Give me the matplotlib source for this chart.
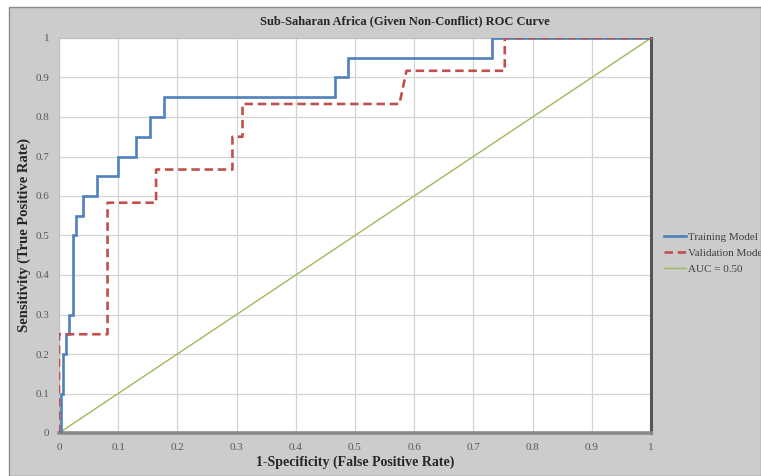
"""ROC curve: Sub-Saharan Africa (given non-conflict), training vs validation."""
import matplotlib
matplotlib.use("Agg")
import matplotlib.pyplot as plt
from matplotlib.patches import Rectangle

OUTPUT_PATH = "out.png"

# ROC vertices
train_fpr = [0.0, 0.003, 0.003, 0.007, 0.007, 0.011, 0.011, 0.017, 0.017, 0.023,
             0.023, 0.029, 0.029, 0.041, 0.041, 0.064, 0.064, 0.100, 0.100, 0.130,
             0.130, 0.154, 0.154, 0.177, 0.177, 0.466, 0.466, 0.488, 0.488, 0.731,
             0.731, 1.0]
train_tpr = [0.0, 0.0, 0.10, 0.10, 0.20, 0.20, 0.25, 0.25, 0.30, 0.30,
             0.50, 0.50, 0.55, 0.55, 0.60, 0.60, 0.65, 0.65, 0.70, 0.70,
             0.75, 0.75, 0.80, 0.80, 0.85, 0.85, 0.90, 0.90, 0.95, 0.95,
             1.0, 1.0]

valid_fpr = [0.0, 0.0, 0.082, 0.082, 0.164, 0.164, 0.293, 0.293, 0.310, 0.310,
             0.575, 0.587, 0.753, 0.753, 1.0]
valid_tpr = [0.0, 0.25, 0.25, 0.583, 0.583, 0.667, 0.667, 0.75, 0.75, 0.833,
             0.833, 0.917, 0.917, 1.0, 1.0]

ref_fpr = [0.0, 1.0]
ref_tpr = [0.0, 1.0]

ticks = [0, 0.1, 0.2, 0.3, 0.4, 0.5, 0.6, 0.7, 0.8, 0.9, 1]
tick_labels = ["0", "0.1", "0.2", "0.3", "0.4", "0.5", "0.6", "0.7", "0.8", "0.9", "1"]

BLUE = "#4f81bd"
RED = "#c0504d"
GREEN = "#9bbb59"
TEXT = "#262626"
MUTED = "#595959"

plt.rcParams["font.family"] = ["Liberation Serif", "DejaVu Serif"]

W, H = 761, 476
fig = plt.figure(figsize=(W / 100, H / 100), dpi=100, facecolor="white")

# grey chart-area panel, kept behind the axes
fig.patches.append(Rectangle((9 / W, 0), 1 - 9 / W, 1 - 7 / H,
                             transform=fig.transFigure, facecolor="#cccccc",
                             edgecolor="#8c8c8c", linewidth=1.0, zorder=-10))

ax = fig.add_axes([59 / W, 1 - 433 / H, (651 - 59) / W, (433 - 38) / H])
ax.set_zorder(5)
ax.set_facecolor("white")

ax.plot(train_fpr, train_tpr, color=BLUE, linewidth=1.9, label="Training Model",
        zorder=3, solid_joinstyle="miter")
ax.plot(valid_fpr, valid_tpr, color=RED, linewidth=1.9, linestyle=(0, (3.2, 1.8)),
        label="Validation Model", zorder=4)
ax.plot(ref_fpr, ref_tpr, color=GREEN, linewidth=1.0, label="AUC = 0.50", zorder=2)

ax.set_xlim(0, 1)
ax.set_ylim(0, 1)
ax.set_xticks(ticks)
ax.set_yticks(ticks)
ax.set_xticklabels(tick_labels)
ax.set_yticklabels(tick_labels)
ax.tick_params(length=0, labelsize=8, labelcolor=MUTED, pad=7)
ax.grid(True, color="#d4d4d4", linewidth=0.9)
ax.set_axisbelow(True)

ax.spines["left"].set_color("#bfbfbf")
ax.spines["top"].set_color("#bfbfbf")
ax.spines["left"].set_linewidth(0.8)
ax.spines["top"].set_linewidth(0.8)
ax.spines["right"].set_color("#555555")
ax.spines["right"].set_linewidth(2.2)
ax.spines["bottom"].set_color("#8a8a8a")
ax.spines["bottom"].set_linewidth(2.6)

ax.set_xlabel("1-Specificity (False Positive Rate)", fontsize=10,
              fontweight="bold", color=TEXT, labelpad=3)
ax.set_ylabel("Sensitivity (True Positive Rate)", fontsize=10.5,
              fontweight="bold", color=TEXT, labelpad=3)

fig.text(405 / W, 1 - 21 / H, "Sub-Saharan Africa (Given Non-Conflict) ROC Curve",
         fontsize=9, fontweight="bold", color=TEXT, ha="center", va="center")

leg = ax.legend(loc="center left", bbox_to_anchor=(664 / W, 1 - 253 / H),
                bbox_transform=fig.transFigure, frameon=False, fontsize=8,
                handlelength=2.0, handletextpad=0.2, labelspacing=0.55,
                borderpad=0, borderaxespad=0)
for t in leg.get_texts():
    t.set_color("#404040")

fig.savefig(OUTPUT_PATH, dpi=100, facecolor=fig.get_facecolor())
plt.close(fig)
print(f"Saved: {OUTPUT_PATH}")
